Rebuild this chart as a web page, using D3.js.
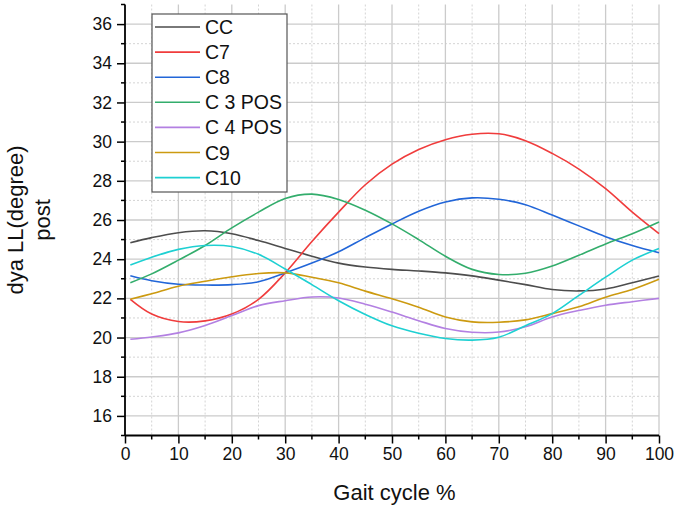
<!DOCTYPE html>
<html>
<head>
<meta charset="utf-8">
<script src="https://cdn.jsdelivr.net/npm/d3@7/dist/d3.min.js"></script>
<style>
  html, body { margin: 0; padding: 0; background: #fff; }
  svg { display: block; font-family: "Liberation Sans", Arial, sans-serif; }
</style>
</head>
<body>
<svg id="chart" width="674" height="506"></svg>
<script>
// Gait cycle positions (%)
const gait = [1, 5, 10, 15, 20, 25, 30, 35, 40, 45, 50, 55, 60, 65, 70, 75, 80, 85, 90, 95, 100];

// Joint angle per condition (degrees)
const seriesNames = ["CC", "C7", "C8", "C 3 POS", "C 4 POS", "C9", "C10"];
const seriesColors = ["#4d4d4d", "#f03c3c", "#2266d8", "#33ad6c", "#b380e2", "#cc9a10", "#1ed0d2"];

const ccValues    = [24.84, 25.10, 25.35, 25.45, 25.30, 24.95, 24.55, 24.15, 23.80, 23.60, 23.48, 23.40, 23.30, 23.15, 22.93, 22.70, 22.45, 22.38, 22.48, 22.80, 23.14];
const c7Values    = [21.95, 21.20, 20.82, 20.85, 21.20, 21.95, 23.30, 24.90, 26.40, 27.80, 28.85, 29.60, 30.10, 30.38, 30.40, 30.05, 29.40, 28.60, 27.60, 26.40, 25.30];
const c8Values    = [23.15, 22.90, 22.72, 22.68, 22.70, 22.85, 23.30, 23.80, 24.38, 25.10, 25.80, 26.45, 26.92, 27.13, 27.06, 26.78, 26.25, 25.70, 25.15, 24.70, 24.33];
const c3PosValues = [22.80, 23.25, 23.95, 24.70, 25.60, 26.40, 27.10, 27.32, 27.05, 26.50, 25.80, 25.00, 24.15, 23.48, 23.22, 23.28, 23.65, 24.20, 24.78, 25.30, 25.90];
const c4PosValues = [19.91, 20.03, 20.24, 20.62, 21.12, 21.63, 21.88, 22.07, 22.02, 21.70, 21.30, 20.86, 20.46, 20.27, 20.28, 20.55, 21.05, 21.38, 21.65, 21.83, 22.00];
const c9Values    = [21.95, 22.24, 22.62, 22.87, 23.10, 23.27, 23.30, 23.08, 22.80, 22.37, 21.98, 21.55, 21.05, 20.80, 20.78, 20.90, 21.22, 21.57, 22.06, 22.45, 22.97];
const c10Values   = [23.70, 24.10, 24.50, 24.70, 24.65, 24.25, 23.50, 22.70, 21.88, 21.18, 20.60, 20.22, 19.95, 19.87, 20.02, 20.60, 21.22, 22.15, 23.08, 23.95, 24.55];

const seriesValues = [ccValues, c7Values, c8Values, c3PosValues, c4PosValues, c9Values, c10Values];

// Axis ticks
const xTicks = [0, 10, 20, 30, 40, 50, 60, 70, 80, 90, 100];
const xMinor = [5, 15, 25, 35, 45, 55, 65, 75, 85, 95];
const yTicks = [16, 18, 20, 22, 24, 26, 28, 30, 32, 34, 36];
const yMinor = [15, 17, 19, 21, 23, 25, 27, 29, 31, 33, 35, 37];

const xLabel = "Gait cycle %";
const yLabelLines = ["dya LL(degree)", "post"];

const svg = d3.select("#chart");
const plotLeft = 125, plotRight = 659, plotTop = 4.5, plotBottom = 435.5;

const x = d3.scaleLinear().domain([0, 100]).range([plotLeft, plotRight]);
const y = d3.scaleLinear().domain([15, 37]).range([plotBottom, plotTop]);

// Grid
const grid = svg.append("g");
grid.selectAll(".vminor").data(xMinor).join("line")
  .attr("x1", d => x(d)).attr("x2", d => x(d)).attr("y1", plotTop).attr("y2", plotBottom)
  .attr("stroke", "#d4d4d4").attr("stroke-width", 1).attr("stroke-dasharray", "2,2");
grid.selectAll(".hminor").data(yMinor.filter(v => v > 15 && v < 37)).join("line")
  .attr("x1", plotLeft).attr("x2", plotRight).attr("y1", d => y(d)).attr("y2", d => y(d))
  .attr("stroke", "#d4d4d4").attr("stroke-width", 1).attr("stroke-dasharray", "2,2");
grid.selectAll(".vmajor").data(xTicks.filter(v => v > 0)).join("line")
  .attr("x1", d => x(d)).attr("x2", d => x(d)).attr("y1", plotTop).attr("y2", plotBottom)
  .attr("stroke", "#cbcbcb").attr("stroke-width", 1.3);
grid.selectAll(".hmajor").data(yTicks).join("line")
  .attr("x1", plotLeft).attr("x2", plotRight).attr("y1", d => y(d)).attr("y2", d => y(d))
  .attr("stroke", "#cbcbcb").attr("stroke-width", 1.3);

// Series lines
const line = d3.line().x((d, i) => x(gait[i])).y(d => y(d)).curve(d3.curveCatmullRom.alpha(0.5));
svg.append("g").selectAll("path").data(seriesValues).join("path")
  .attr("d", d => line(d))
  .attr("fill", "none")
  .attr("stroke", (d, i) => seriesColors[i])
  .attr("stroke-width", 1.6);

// Axes
const xAxis = d3.axisBottom(x).tickValues(xTicks).tickSize(8).tickPadding(4).tickFormat(d3.format("d"));
const gx = svg.append("g").attr("transform", `translate(0,${plotBottom})`).call(xAxis);
gx.selectAll(".minor").data(xMinor).join("line").attr("class", "minor")
  .attr("x1", d => x(d)).attr("x2", d => x(d)).attr("y1", 0).attr("y2", 4)
  .attr("stroke", "#000").attr("stroke-width", 1.5);

const yAxis = d3.axisLeft(y).tickValues(yTicks).tickSize(8).tickPadding(5).tickFormat(d3.format("d"));
const gy = svg.append("g").attr("transform", `translate(${plotLeft},0)`).call(yAxis);
gy.selectAll(".minor").data(yMinor).join("line").attr("class", "minor")
  .attr("x1", 0).attr("x2", -4).attr("y1", d => y(d)).attr("y2", d => y(d))
  .attr("stroke", "#000").attr("stroke-width", 1.5);

[gx, gy].forEach(g => {
  g.select(".domain").attr("stroke", "#000").attr("stroke-width", 1.8);
  g.selectAll(".tick line").attr("stroke", "#000").attr("stroke-width", 1.5);
  g.selectAll(".tick text").attr("font-size", 17.5).attr("fill", "#111")
    .attr("font-family", "'Liberation Sans', Arial, sans-serif");
});
gx.select(".domain").attr("d", `M${plotLeft},0H${plotRight}`);
gy.select(".domain").attr("d", `M0,${plotBottom}V${plotTop}`);

// Axis titles
svg.append("text")
  .attr("x", 394.5).attr("y", 500)
  .attr("text-anchor", "middle").attr("font-size", 22).attr("fill", "#111")
  .text(xLabel);

svg.append("g").selectAll("text").data(yLabelLines).join("text")
  .attr("transform", (d, i) => `translate(${23 + i * 27},${(plotTop + plotBottom) / 2}) rotate(-90)`)
  .attr("text-anchor", "middle").attr("font-size", 22).attr("fill", "#111")
  .text(d => d);

// Legend
const legend = svg.append("g");
legend.append("rect")
  .attr("x", 152).attr("y", 14).attr("width", 135).attr("height", 178)
  .attr("fill", "#fff").attr("stroke", "#555").attr("stroke-width", 1.2);
const rows = legend.selectAll("g.row").data(seriesNames).join("g")
  .attr("transform", (d, i) => `translate(0,${27 + i * 25.1})`);
rows.append("line")
  .attr("x1", 155).attr("x2", 200).attr("y1", 0).attr("y2", 0)
  .attr("stroke", (d, i) => seriesColors[i]).attr("stroke-width", 1.6);
rows.append("text")
  .attr("x", 205).attr("y", 7).attr("font-size", 19.5).attr("fill", "#111")
  .text(d => d);
</script>
</body>
</html>
